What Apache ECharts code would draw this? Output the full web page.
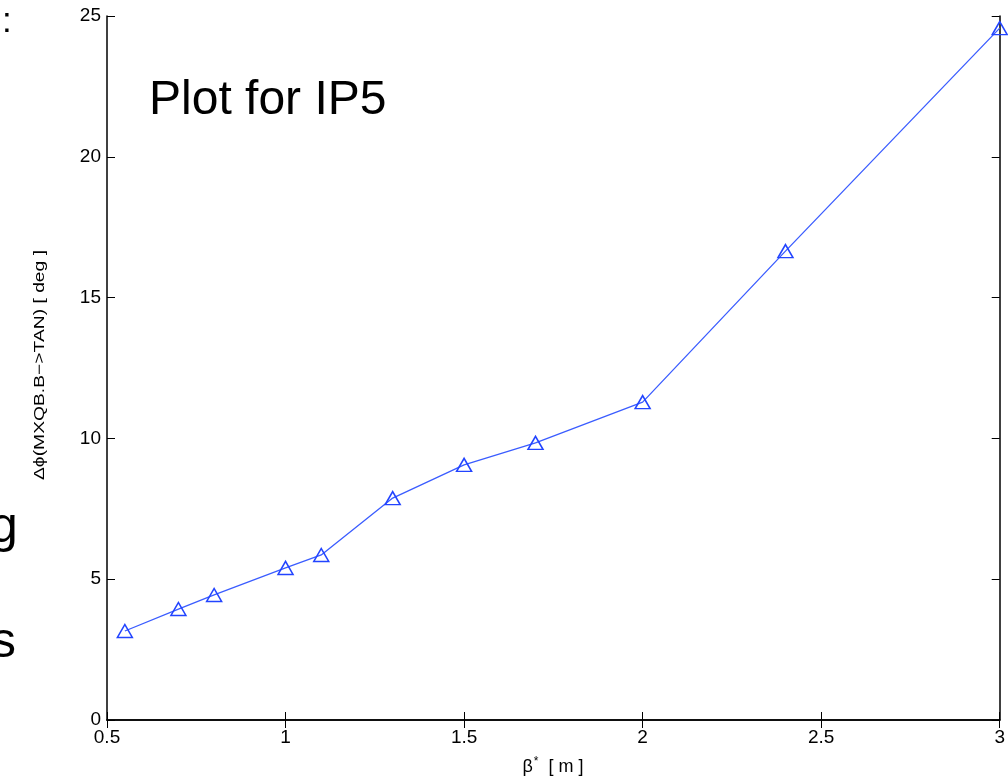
<!DOCTYPE html>
<html><head><meta charset="utf-8">
<script src="https://cdn.jsdelivr.net/npm/echarts@6/dist/echarts.min.js"></script>
<style>html,body{margin:0;padding:0;background:#fff}#c{width:1008px;height:778px}</style>
</head><body><div id="c"></div>
<script>
const betaStar = [0.55, 0.7, 0.8, 1.0, 1.1, 1.3, 1.5, 1.7, 2.0, 2.4, 3.0];
const deltaPhi = [3.16, 3.94, 4.44, 5.40, 5.86, 7.88, 9.06, 9.84, 11.29, 16.65, 24.57];
const xTicks = [0.5, 1, 1.5, 2, 2.5, 3];
const yTicks = [0, 5, 10, 15, 20, 25];
const titleText = 'Plot for IP5';
const yName = 'Δϕ(MXQB.B−>TAN) [ deg ]';

const font = 'Liberation Sans, Arial, Helvetica, sans-serif';
const cv = document.createElement('canvas').getContext('2d');
cv.font = '15px ' + font;
const yNameScale = 230 / cv.measureText(yName).width;

const chart = echarts.init(document.getElementById('c'), null, {renderer: 'canvas'});
const axisLine = {show: true, lineStyle: {color: '#000', width: 1.5}};
const tickIn = {show: true, inside: true, length: 8, lineStyle: {color: '#000', width: 1}};
chart.setOption({
  animation: false,
  backgroundColor: '#fff',
  graphic: [
    {type: 'text', x: 149, y: 101, style: {text: titleText, font: '48px ' + font, fill: '#000', verticalAlign: 'middle'}},
    {type: 'text', x: 2, y: 5, style: {text: ':', font: '35px ' + font, fill: '#000'}},
    {type: 'text', x: -10, y: 528, style: {text: 'g', font: '50px ' + font, fill: '#000', verticalAlign: 'middle'}},
    {type: 'text', x: -9, y: 643, style: {text: 's', font: '50px ' + font, fill: '#000', verticalAlign: 'middle'}},
    {type: 'text', x: 40, y: 365, rotation: Math.PI / 2, scaleX: yNameScale, scaleY: 1,
      style: {text: yName, font: '15px ' + font, fill: '#000', align: 'center', verticalAlign: 'middle'}},
    {type: 'text', x: 553, y: 766, style: {
      text: '{a|β}{s|*}{a|  [ m ]}', align: 'center', verticalAlign: 'middle',
      rich: {a: {fontFamily: font, fontSize: 18, fill: '#000', verticalAlign: 'bottom'},
             s: {fontFamily: font, fontSize: 12, fill: '#000', padding: [0, 0, 8, 1], verticalAlign: 'bottom'}}
    }}
  ],
  grid: {left: 107, right: 8, top: 16, bottom: 58, containLabel: false},
  xAxis: [{
    type: 'value', min: 0.5, max: 3, interval: 0.5,
    axisLine: axisLine, axisTick: tickIn, splitLine: {show: false},
    axisLabel: {fontFamily: font, fontSize: 19, color: '#000', margin: 8,
      formatter: v => xTicks.includes(+v.toFixed(2)) ? String(+v.toFixed(2)) : ''}
  }, {
    type: 'value', position: 'top', min: 0.5, max: 3, interval: 0.5,
    axisLine: axisLine, axisTick: tickIn, axisLabel: {show: false}, splitLine: {show: false}
  }],
  yAxis: [{
    type: 'value', min: 0, max: 25, interval: 5,
    axisLine: axisLine, axisTick: tickIn, splitLine: {show: false},
    axisLabel: {fontFamily: font, fontSize: 19, color: '#000', margin: 6,
      formatter: v => yTicks.includes(v) ? String(v) : ''}
  }, {
    type: 'value', position: 'right', min: 0, max: 25, interval: 5,
    axisLine: axisLine, axisTick: tickIn, axisLabel: {show: false}, splitLine: {show: false}
  }],
  series: [{
    type: 'line',
    data: betaStar.map((b, i) => [b, deltaPhi[i]]),
    symbol: 'triangle', symbolSize: [15, 13],
    lineStyle: {color: '#3a5cff', width: 1.3},
    itemStyle: {color: 'rgba(0,0,0,0)', borderColor: '#2244ff', borderWidth: 1.5},
    clip: false
  }]
});
</script></body></html>
